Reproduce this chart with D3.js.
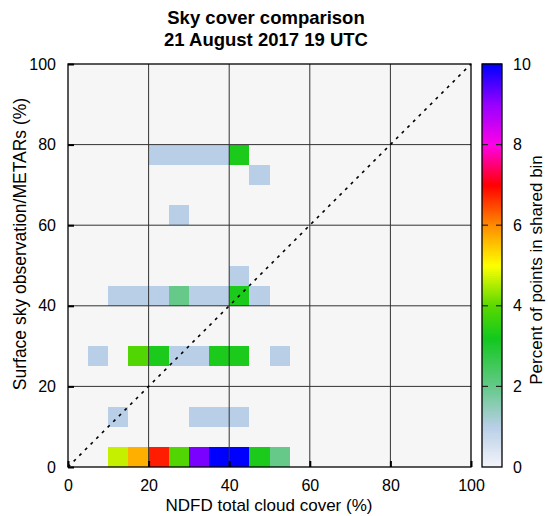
<!DOCTYPE html>
<html>
<head>
<meta charset="utf-8">
<script src="https://cdn.jsdelivr.net/npm/d3@7"></script>
<style>
  body { margin: 0; background: #fff; }
  text { font-family: "Liberation Sans", Arial, Helvetica, sans-serif; fill: #000; }
</style>
</head>
<body>
<svg id="chart" width="548" height="516"></svg>
<script>
// bin lower edges (%), bins are 5 wide
const cellX = [10, 15, 20, 25, 30, 35, 40, 45, 50,
               10, 30, 35, 40,
               5, 15, 20, 25, 30, 35, 40, 50,
               10, 15, 20, 25, 30, 35, 40, 45,
               40, 25, 45,
               20, 25, 30, 35, 40];
const cellY = [0, 0, 0, 0, 0, 0, 0, 0, 0,
               10, 10, 10, 10,
               25, 25, 25, 25, 25, 25, 25, 25,
               40, 40, 40, 40, 40, 40, 40, 40,
               45, 60, 70,
               75, 75, 75, 75, 75];
const cellPct = [4.65, 5.7, 6.8, 3.9, 9.2, 10, 10, 3.3, 2.0,
                 1.0, 1.0, 1.0, 1.0,
                 1.0, 3.9, 3.3, 1.0, 1.0, 3.3, 3.3, 1.0,
                 1.0, 1.0, 1.0, 2.0, 1.0, 1.0, 3.3, 1.0,
                 1.0, 1.0, 1.0,
                 1.0, 1.0, 1.0, 1.0, 3.3];
const binWidth = 5;
const axisTicks = [0, 20, 40, 60, 80, 100];
const barTicks = [0, 2, 4, 6, 8, 10];
const cmapStops = [0, 1, 2, 3.2, 4, 5, 6, 7, 8, 9, 10];
const cmapColors = ["#f4f5fa", "#b9cfe7", "#66c98a", "#12c81e", "#5ad800", "#ffff00",
                    "#ff8c00", "#ff0000", "#ff00e6", "#9900ff", "#0000ff"];

const svg = d3.select("#chart");
const pL = 68, pR = 471, pT = 64, pB = 467;

const x = d3.scaleLinear().domain([0, 100]).range([pL, pR]);
const y = d3.scaleLinear().domain([0, 100]).range([pB, pT]);
const color = d3.scaleLinear().domain(cmapStops).range(cmapColors);

// background of the plot
svg.append("rect")
  .attr("x", pL).attr("y", pT)
  .attr("width", pR - pL).attr("height", pB - pT)
  .attr("fill", "#f6f6f6");

// cells
const cells = cellX.map((d, i) => ({ x: d, y: cellY[i], v: cellPct[i] }));
svg.append("g").attr("shape-rendering", "crispEdges").selectAll("rect")
  .data(cells)
  .enter().append("rect")
  .attr("x", d => x(d.x))
  .attr("y", d => y(d.y + binWidth))
  .attr("width", d => x(d.x + binWidth) - x(d.x))
  .attr("height", d => y(d.y) - y(d.y + binWidth))
  .attr("fill", d => color(d.v));

// grid lines
const inner = axisTicks.slice(1, -1);
svg.append("g").selectAll("line")
  .data(inner).enter().append("line")
  .attr("x1", d => x(d)).attr("x2", d => x(d))
  .attr("y1", pT).attr("y2", pB)
  .attr("stroke", "#333").attr("stroke-width", 1);
svg.append("g").selectAll("line")
  .data(inner).enter().append("line")
  .attr("y1", d => y(d)).attr("y2", d => y(d))
  .attr("x1", pL).attr("x2", pR)
  .attr("stroke", "#333").attr("stroke-width", 1);

// one to one line
svg.append("line")
  .attr("x1", x(0)).attr("y1", y(0))
  .attr("x2", x(100)).attr("y2", y(100))
  .attr("stroke", "#000").attr("stroke-width", 1.6)
  .attr("stroke-dasharray", "3,5");

// axes with inward ticks
const xAxis = svg.append("g")
  .attr("transform", `translate(0,${pB})`)
  .call(d3.axisBottom(x).tickValues(axisTicks).tickSizeInner(-6).tickSizeOuter(0).tickPadding(13));
const yAxis = svg.append("g")
  .attr("transform", `translate(${pL},0)`)
  .call(d3.axisLeft(y).tickValues(axisTicks).tickSizeInner(-6).tickSizeOuter(0).tickPadding(12));
[xAxis, yAxis].forEach(a => {
  a.select(".domain").remove();
  a.selectAll("line").attr("stroke", "#000").attr("stroke-width", 2);
  a.selectAll("text").style("font-size", "16px").style("font-family", "Liberation Sans, Arial, sans-serif");
});

svg.append("rect")
  .attr("x", pL).attr("y", pT)
  .attr("width", pR - pL).attr("height", pB - pT)
  .attr("fill", "none").attr("stroke", "#000").attr("stroke-width", 1.3);

// colorbar
const cbLeft = 482, cbRight = 502;
const cy = d3.scaleLinear().domain([0, 10]).range([pB, pT]);
const steps = d3.range(0, 10, 0.05);
svg.append("g").selectAll("rect")
  .data(steps).enter().append("rect")
  .attr("x", cbLeft)
  .attr("y", d => cy(d + 0.05) - 0.5)
  .attr("width", cbRight - cbLeft)
  .attr("height", d => cy(d) - cy(d + 0.05) + 1)
  .attr("fill", d => color(d + 0.025));
svg.append("g").selectAll("g")
  .data(barTicks.slice(1, -1)).enter().append("g")
  .each(function (d) {
    const g = d3.select(this);
    g.append("line").attr("x1", cbLeft).attr("x2", cbLeft + 6)
      .attr("y1", cy(d)).attr("y2", cy(d)).attr("stroke", "#222").attr("stroke-width", 1.2);
    g.append("line").attr("x1", cbRight - 6).attr("x2", cbRight)
      .attr("y1", cy(d)).attr("y2", cy(d)).attr("stroke", "#222").attr("stroke-width", 1.2);
  });
svg.append("rect")
  .attr("x", cbLeft).attr("y", pT)
  .attr("width", cbRight - cbLeft).attr("height", pB - pT)
  .attr("fill", "none").attr("stroke", "#000").attr("stroke-width", 1.3);
svg.append("g").selectAll("text")
  .data(barTicks).enter().append("text")
  .attr("x", 513).attr("y", d => cy(d)).attr("dy", "0.35em")
  .style("font-size", "16px")
  .text(d => d);

// titles and labels
svg.append("text")
  .attr("x", 266).attr("y", 24)
  .attr("text-anchor", "middle")
  .style("font-size", "18.5px").style("font-weight", "bold")
  .text("Sky cover comparison");
svg.append("text")
  .attr("x", 266).attr("y", 46)
  .attr("text-anchor", "middle")
  .style("font-size", "18.5px").style("font-weight", "bold")
  .text("21 August 2017 19 UTC");
svg.append("text")
  .attr("x", 269).attr("y", 511)
  .attr("text-anchor", "middle")
  .style("font-size", "17px")
  .text("NDFD total cloud cover (%)");
svg.append("text")
  .attr("transform", `translate(26,244) rotate(-90)`)
  .attr("text-anchor", "middle")
  .style("font-size", "17.5px")
  .text("Surface sky observation/METARs (%)");
svg.append("text")
  .attr("transform", `translate(542,270) rotate(-90)`)
  .attr("text-anchor", "middle")
  .style("font-size", "17px")
  .text("Percent of points in shared bin");
</script>
</body>
</html>
